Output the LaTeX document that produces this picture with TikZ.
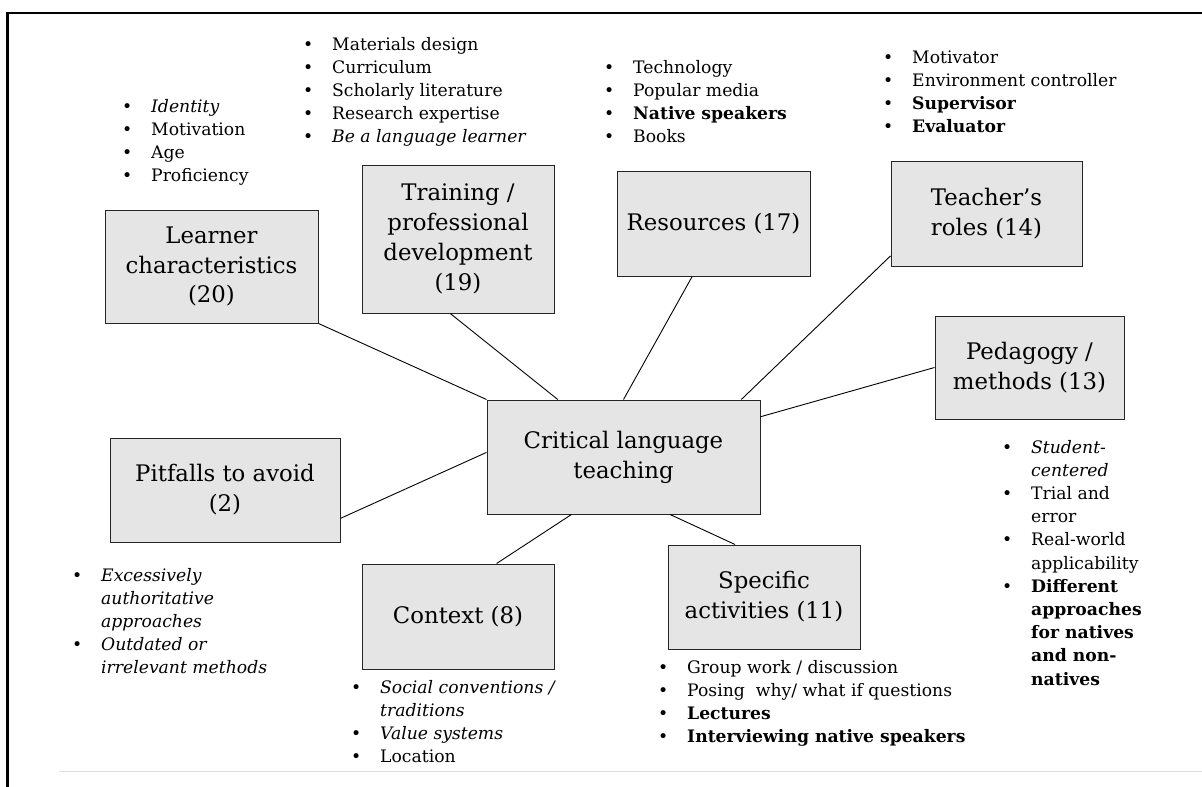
\documentclass[tikz,border=0pt]{standalone}
\usepackage{fontspec}
\setmainfont{DejaVu Serif}
\usetikzlibrary{calc}
\tikzset{
  topic/.style={draw=black!85, line width=1pt, fill=black!10, align=center, inner sep=0pt,
    font=\fontsize{22.8}{29.8}\selectfont},
  blist/.style={anchor=base west, inner sep=0pt, font=\fontsize{17.2}{23.2}\selectfont},
  link/.style={draw=black, line width=0.9pt},
}
\newcommand\bu{\textbullet}
\newenvironment{blt}{\begin{tabular}[t]{@{}p{29pt}@{}l@{}}}{\end{tabular}}
\begin{document}
\begin{tikzpicture}[x=1pt,y=-1pt]
\useasboundingbox (0,0) rectangle (1202,787);
% frame
\draw[line width=2.5pt] (7.5,787) -- (7.5,13) -- (1202,13);
\draw[black!13, line width=1pt] (59,771) -- (1202,771);
% boxes
\node[topic, minimum width=213pt, minimum height=113pt] (learner) at (211.5,266.5) {Learner\\characteristics\\(20)};
\node[topic, minimum width=192pt, minimum height=148pt] (training) at (458,239) {Training /\\professional\\development\\(19)};
\node[topic, minimum width=193pt, minimum height=105pt] (resources) at (713.5,223.5) {Resources (17)};
\node[topic, minimum width=191pt, minimum height=105pt] (teacher) at (986.5,213.5) {Teacher's\\roles (14)};
\node[topic, minimum width=189pt, minimum height=103pt] (pedagogy) at (1029.5,367.5) {Pedagogy /\\methods (13)};
\node[topic, minimum width=273pt, minimum height=114pt] (clt) at (623.5,457) {Critical language\\teaching};
\node[topic, minimum width=230pt, minimum height=104pt] (pitfalls) at (225,490) {Pitfalls to avoid\\(2)};
\node[topic, minimum width=192pt, minimum height=105pt] (context) at (458,616.5) {Context (8)};
\node[topic, minimum width=192pt, minimum height=104pt] (specific) at (764,597) {Specific\\activities (11)};
% connectors
\draw[link] (learner.south east) -- (clt.north west);
\draw[link] ($(training.south west)!0.46!(training.south east)$) -- ($(clt.north west)!0.26!(clt.north east)$);
\draw[link] ($(resources.south west)!0.39!(resources.south east)$) -- (clt.north);
\draw[link] ($(teacher.north west)!0.9!(teacher.south west)$) -- ($(clt.north west)!0.93!(clt.north east)$);
\draw[link] (pedagogy.west) -- ($(clt.north east)!0.15!(clt.south east)$);
\draw[link] ($(pitfalls.north east)!0.77!(pitfalls.south east)$) -- ($(clt.north west)!0.46!(clt.south west)$);
\draw[link] ($(context.north west)!0.70!(context.north east)$) -- ($(clt.south west)!0.31!(clt.south east)$);
\draw[link] ($(specific.north west)!0.35!(specific.north east)$) -- ($(clt.south west)!0.67!(clt.south east)$);
% bullet lists
\node[blist] (lLearner) at (122,112) {\begin{blt}
\bu & \textit{Identity}\\
\bu & Motivation\\
\bu & Age\\
\bu & Proficiency
\end{blt}};
\node[blist] (lTraining) at (303,50) {\begin{blt}
\bu & Materials design\\
\bu & Curriculum\\
\bu & Scholarly literature\\
\bu & Research expertise\\
\bu & \textit{Be a language learner}
\end{blt}};
\node[blist] (lResources) at (604,73) {\begin{blt}
\bu & Technology\\
\bu & Popular media\\
\bu & \textbf{Native speakers}\\
\bu & Books
\end{blt}};
\node[blist] (lTeacher) at (883,63) {\begin{blt}
\bu & Motivator\\
\bu & Environment controller\\
\bu & \textbf{Supervisor}\\
\bu & \textbf{Evaluator}
\end{blt}};
\node[blist] (lPedagogy) at (1002,453) {\begin{blt}
\bu & \textit{Student-}\\
    & \textit{centered}\\
\bu & Trial and\\
    & error\\
\bu & Real-world\\
    & applicability\\
\bu & \textbf{Different}\\
    & \textbf{approaches}\\
    & \textbf{for natives}\\
    & \textbf{and non-}\\
    & \textbf{natives}
\end{blt}};
\node[blist] (lPitfalls) at (72,581) {\begin{blt}
\bu & \textit{Excessively}\\
    & \textit{authoritative}\\
    & \textit{approaches}\\
\bu & \textit{Outdated or}\\
    & \textit{irrelevant methods}
\end{blt}};
\node[blist] (lContext) at (351,693) {\begin{blt}
\bu & \textit{Social conventions /}\\
    & \textit{traditions}\\
\bu & \textit{Value systems}\\
\bu & Location
\end{blt}};
\node[blist] (lSpecific) at (658,673) {\begin{blt}
\bu & Group work / discussion\\
\bu & Posing\ \ why/ what if questions\\
\bu & \textbf{Lectures}\\
\bu & \textbf{Interviewing native speakers}
\end{blt}};
\end{tikzpicture}
\end{document}
